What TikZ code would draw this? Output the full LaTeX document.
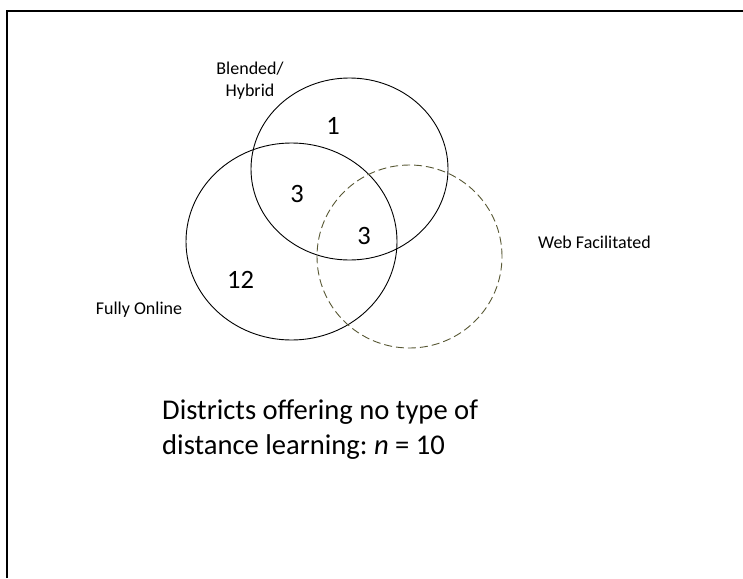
\documentclass[tikz,border=0pt]{standalone}
\usepackage{fontspec}
\setmainfont{Carlito}
\usetikzlibrary{shapes.geometric}
\definecolor{dashol}{RGB}{88,88,52}
\begin{document}
\begin{tikzpicture}[x=1pt,y=-1pt,
  setring/.style={ellipse,draw=black,line width=0.9pt,inner sep=0pt},
  webring/.style={ellipse,draw=dashol,line width=0.9pt,inner sep=0pt,dash pattern=on 8pt off 4pt},
  lbl/.style={inner sep=0pt,font=\fontsize{18}{22}\selectfont},
  num/.style={inner sep=0pt,anchor=base,font=\fontsize{26.5}{30}\selectfont},
  note/.style={inner sep=0pt,align=left,font=\fontsize{28.6}{35}\selectfont}]
\useasboundingbox (0,0) rectangle (743,578);
% frame
\draw[line width=1.6pt] (7,578) -- (7,11) -- (743,11);
% circles
\node[setring,minimum width=197pt,minimum height=182pt] (blend) at (349.5,169) {};
\node[setring,minimum width=211pt,minimum height=197pt] (full) at (291.5,241.5) {};
\node[webring,minimum width=185pt,minimum height=183pt] (web) at (409.5,256.5) {};
% labels
\node[lbl,align=center] (lblend) at (250,80.5) {Blended/\\Hybrid};
\node[lbl,anchor=base] (lfull) at (139,314) {Fully Online};
\node[lbl,anchor=base] (lweb) at (594.5,248) {Web Facilitated};
% counts
\node[num] (n1) at (333,134) {1};
\node[num] (n3a) at (297,202) {3};
\node[num] (n3b) at (364,244) {3};
\node[num] (n12) at (240.5,288) {12};
% note
\node[note,anchor=north west] (note) at (162,400) {Districts offering no type of\\distance learning:~\textit{n}~=~10};
\end{tikzpicture}
\end{document}
